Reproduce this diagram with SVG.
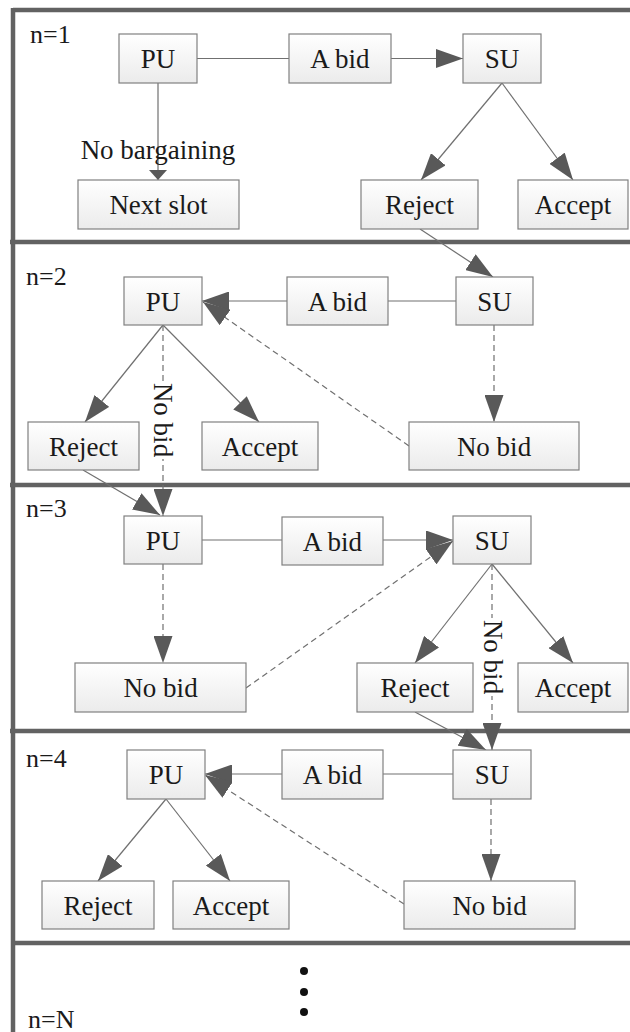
<svg xmlns="http://www.w3.org/2000/svg" width="630" height="1032" viewBox="0 0 630 1032">
<defs>
<linearGradient id="bf" x1="0" y1="0" x2="0" y2="1">
<stop offset="0" stop-color="#ffffff"/>
<stop offset="1" stop-color="#ebebeb"/>
</linearGradient>
<marker id="ah" markerUnits="userSpaceOnUse" markerWidth="27" markerHeight="19" refX="27" refY="9.5" orient="auto" viewBox="0 0 27 19">
<path d="M0,0 L27,9.5 L0,19 z" fill="#595959"/>
</marker>
<marker id="ahs" markerUnits="userSpaceOnUse" markerWidth="10" markerHeight="18" refX="10" refY="9" orient="auto" viewBox="0 0 10 18">
<path d="M0,0 L10,9 L0,18 z" fill="#595959"/>
</marker>
<style>
.frame{stroke:#626262;stroke-width:4.5;fill:none}
.box{fill:url(#bf);stroke:#808080;stroke-width:1.2}
.t{font-family:"Liberation Serif","Times New Roman",serif;font-size:27px;fill:#1a1a1a;text-anchor:middle}
.lbl{font-family:"Liberation Serif","Times New Roman",serif;font-size:26px;fill:#1a1a1a}
.c{stroke:#707070;stroke-width:1.2;fill:none}
.d{stroke:#707070;stroke-width:1.2;fill:none;stroke-dasharray:6,4}
.a{marker-end:url(#ah)}
</style>
</defs>
<rect width="630" height="1032" fill="#ffffff"/>
<g id="frame">
<line class="frame" x1="13" y1="10" x2="630" y2="10"/>
<line class="frame" x1="13" y1="8" x2="13" y2="1032"/>
<line class="frame" x1="10" y1="242" x2="630" y2="242"/>
<line class="frame" x1="10" y1="485" x2="630" y2="485"/>
<line class="frame" x1="10" y1="731" x2="630" y2="731"/>
<line class="frame" x1="13" y1="943" x2="630" y2="943"/>
</g>
<g id="stage-labels">
<text class="lbl" x="30" y="43">n=1</text>
<text class="lbl" x="26" y="285">n=2</text>
<text class="lbl" x="26" y="517">n=3</text>
<text class="lbl" x="26" y="767">n=4</text>
<text class="lbl" x="28" y="1028">n=N</text>
</g>
<g id="connectors">
<line class="c" x1="197" y1="58.5" x2="289" y2="58.5"/>
<line class="c a" x1="391" y1="58.5" x2="463" y2="58.5"/>
<line class="c" x1="158" y1="83" x2="158" y2="180" marker-end="url(#ahs)"/>
<line class="c a" x1="502" y1="83" x2="421" y2="180"/>
<line class="c a" x1="502" y1="83" x2="573" y2="180"/>
<line class="c a" x1="420" y1="229" x2="493" y2="277"/>
<line class="c a" x1="287" y1="301" x2="202" y2="301"/>
<line class="c" x1="456" y1="301" x2="388" y2="301"/>
<line class="d a" x1="494" y1="325" x2="494" y2="422"/>
<line class="d a" x1="409" y1="446" x2="203" y2="302"/>
<line class="c a" x1="163" y1="325" x2="85" y2="422"/>
<line class="c a" x1="163" y1="325" x2="259" y2="422"/>
<line class="d a" x1="163" y1="325" x2="163" y2="516"/>
<line class="c a" x1="83" y1="470" x2="160" y2="515"/>
<line class="c" x1="202" y1="540" x2="282" y2="540"/>
<line class="c a" x1="383" y1="540" x2="453" y2="540"/>
<line class="d a" x1="246" y1="688" x2="453" y2="541"/>
<line class="d a" x1="163" y1="564" x2="163" y2="663"/>
<line class="c a" x1="492" y1="564" x2="415" y2="663"/>
<line class="c a" x1="492" y1="564" x2="573" y2="663"/>
<line class="d a" x1="492" y1="564" x2="492" y2="750"/>
<line class="c a" x1="415" y1="712" x2="486" y2="750"/>
<line class="c a" x1="282" y1="774" x2="205" y2="774"/>
<line class="c" x1="453" y1="774" x2="383" y2="774"/>
<line class="d a" x1="491" y1="799" x2="491" y2="881"/>
<line class="d a" x1="404" y1="904" x2="205" y2="775"/>
<line class="c a" x1="166" y1="799" x2="98" y2="881"/>
<line class="c a" x1="166" y1="799" x2="230" y2="881"/>
<text class="t" x="158" y="159">No bargaining</text>
<g transform="translate(163,420) rotate(90)">
<rect x="-39" y="-11" width="78" height="22" fill="#ffffff"/>
<text class="t" x="0" y="9">No bid</text>
</g>
<g transform="translate(493,657) rotate(90)">
<rect x="-39" y="-11" width="78" height="22" fill="#ffffff"/>
<text class="t" x="0" y="9">No bid</text>
</g>
</g>
<g id="pu1"><rect class="box" x="119" y="34" width="78" height="49"/><text class="t" x="158" y="68">PU</text></g>
<g id="abid1"><rect class="box" x="289" y="34" width="102" height="49"/><text class="t" x="340" y="68">A bid</text></g>
<g id="su1"><rect class="box" x="463" y="34" width="78" height="49"/><text class="t" x="502" y="68">SU</text></g>
<g id="nextslot1"><rect class="box" x="78" y="180" width="161" height="49"/><text class="t" x="158.5" y="214">Next slot</text></g>
<g id="reject1"><rect class="box" x="361" y="180" width="117" height="49"/><text class="t" x="419.5" y="214">Reject</text></g>
<g id="accept1"><rect class="box" x="518" y="180" width="110" height="49"/><text class="t" x="573" y="214">Accept</text></g>
<g id="pu2"><rect class="box" x="124" y="277" width="78" height="48"/><text class="t" x="163" y="310.5">PU</text></g>
<g id="abid2"><rect class="box" x="287" y="277" width="101" height="48"/><text class="t" x="337.5" y="310.5">A bid</text></g>
<g id="su2"><rect class="box" x="456" y="277" width="77" height="48"/><text class="t" x="494.5" y="310.5">SU</text></g>
<g id="reject2"><rect class="box" x="28" y="422" width="111" height="48"/><text class="t" x="83.5" y="455.5">Reject</text></g>
<g id="accept2"><rect class="box" x="202" y="422" width="116" height="48"/><text class="t" x="260" y="455.5">Accept</text></g>
<g id="nobid2"><rect class="box" x="409" y="422" width="170" height="48"/><text class="t" x="494" y="455.5">No bid</text></g>
<g id="pu3"><rect class="box" x="124" y="516" width="78" height="48"/><text class="t" x="163" y="549.5">PU</text></g>
<g id="abid3"><rect class="box" x="282" y="517" width="101" height="48"/><text class="t" x="332.5" y="550.5">A bid</text></g>
<g id="su3"><rect class="box" x="453" y="516" width="78" height="48"/><text class="t" x="492" y="549.5">SU</text></g>
<g id="nobid3"><rect class="box" x="75" y="663" width="171" height="49"/><text class="t" x="160.5" y="697">No bid</text></g>
<g id="reject3"><rect class="box" x="357" y="663" width="116" height="49"/><text class="t" x="415" y="697">Reject</text></g>
<g id="accept3"><rect class="box" x="518" y="663" width="110" height="49"/><text class="t" x="573" y="697">Accept</text></g>
<g id="pu4"><rect class="box" x="127" y="750" width="78" height="49"/><text class="t" x="166" y="784">PU</text></g>
<g id="abid4"><rect class="box" x="282" y="750" width="101" height="49"/><text class="t" x="332.5" y="784">A bid</text></g>
<g id="su4"><rect class="box" x="453" y="750" width="78" height="49"/><text class="t" x="492" y="784">SU</text></g>
<g id="reject4"><rect class="box" x="42" y="881" width="112" height="48"/><text class="t" x="98" y="914.5">Reject</text></g>
<g id="accept4"><rect class="box" x="173" y="881" width="116" height="48"/><text class="t" x="231" y="914.5">Accept</text></g>
<g id="nobid4"><rect class="box" x="404" y="881" width="171" height="48"/><text class="t" x="489.5" y="914.5">No bid</text></g>
<g id="ellipsis">
<circle cx="304" cy="971" r="4" fill="#111111"/>
<circle cx="304" cy="992" r="4" fill="#111111"/>
<circle cx="304" cy="1012" r="4" fill="#111111"/>
</g>
</svg>
